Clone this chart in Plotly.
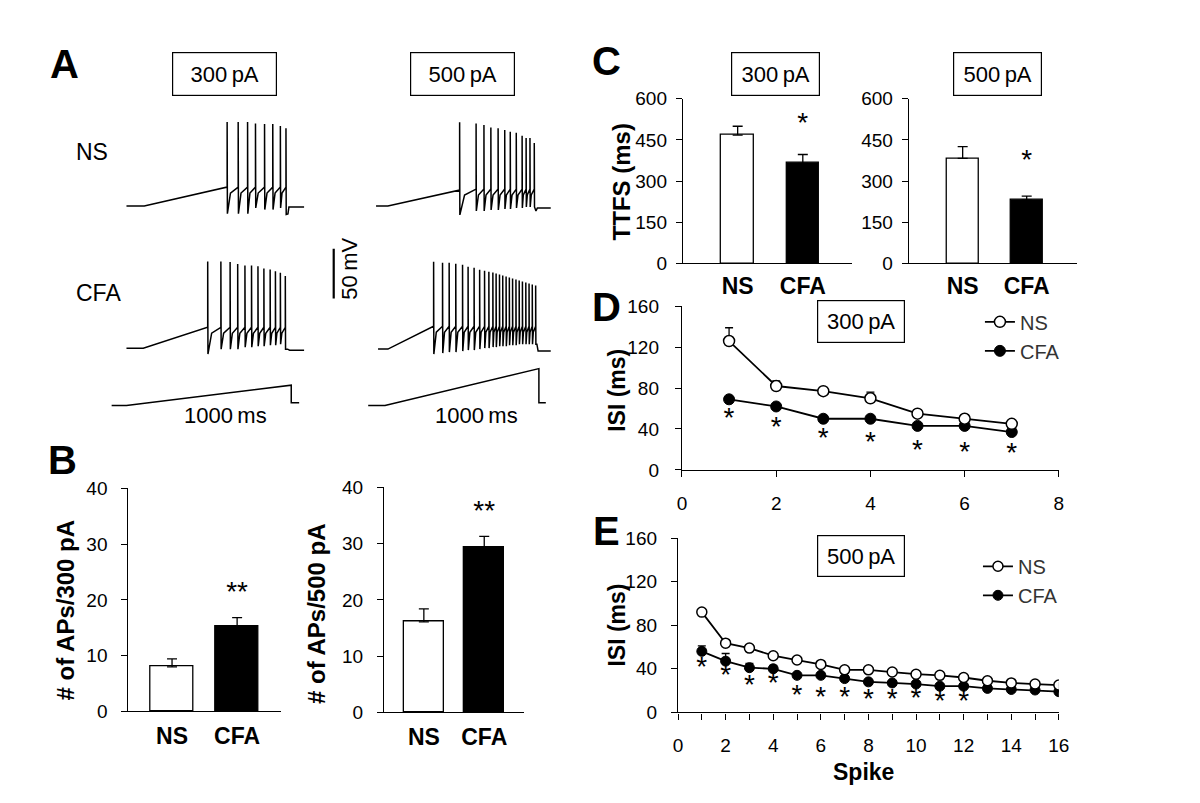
import plotly.graph_objects as go

W, H = 1200, 803
FONT = "Arial, Liberation Sans, sans-serif"

# ---------------- panel A : example traces (time in ms, voltage in mV) ----------------
ns300_pre_t = [0, 108, 611]
ns300_pre_v = [-65, -65, -46]
ns300_spk_t = [611, 678, 735, 783, 838, 888, 934, 968]
ns300_peak = [19.6, 19.6, 19.6, 18.1, 17.4, 17.4, 15.4, 13.1]
ns300_trough = [-72.8, -72.8, -72.8, -67, -68.6, -68.6, -67, -73.5]
ns300_thr = -46
ns300_post_t = [980, 986, 1078]
ns300_post_v = [-73, -66, -66]

cfa300_pre_t = [0, 102, 493]
cfa300_pre_v = [-65, -65, -44]
cfa300_spk_t = [493, 573, 629, 675, 719, 759, 798, 834, 872, 904, 934, 964]
cfa300_peak = [22.3, 22.3, 21.6, 19.6, 18.3, 18.3, 17.4, 15.1, 14.1, 12.5, 10.8, 7.5]
cfa300_trough = [-71, -66, -66, -66, -64, -64, -63, -63, -62, -62, -61, -66]
cfa300_thr = -44
cfa300_post_t = [978, 990, 1078]
cfa300_post_v = [-66, -67, -67]

ns500_pre_t = [-58, 19, 485]
ns500_pre_v = [-65, -65, -49]
ns500_spk_t = [485, 592, 643, 688, 735, 778, 814, 853, 891, 917, 942, 970]
ns500_peak = [19.3, 18.0, 16.4, 14.1, 13.1, 11.5, 9.8, 8.8, 5.6, 3.3, 3.3, -1.6]
ns500_trough = [-74, -70, -70, -69, -69, -68, -68, -67, -67, -66, -66, -66]
ns500_thr = -48
ns500_post_t = [981, 990, 1077]
ns500_post_v = [-70, -67, -67]

cfa500_pre_t = [-45, 19, 316]
cfa500_pre_v = [-65, -65, -42]
cfa500_spk_t = [316, 374, 417, 460, 504, 540, 579, 615, 647, 675, 701, 722,
                744, 765, 787, 808, 829, 851, 872, 893, 915, 936, 957, 979]
cfa500_peak = [23, 22, 22, 21, 20, 18, 17, 15, 14, 13, 12, 11,
               10, 9, 8, 7, 6, 5, 4, 3, 2, 1, 0, -1]
cfa500_trough = [-70, -69, -68, -68, -67, -66, -66, -65, -64, -64, -63, -63,
                 -62, -62, -62, -61, -61, -61, -60, -60, -60, -60, -60, -60]
cfa500_thr = -42
cfa500_post_t = [987, 995, 1077]
cfa500_post_v = [-60, -67, -67]

# current ramps (pA)
ramp300_t = [-90, 0, 1000, 1000, 1048]
ramp300_i = [0, 0, 300, 40, 40]
ramp500_t = [-109, 0, 1000, 1000, 1045]
ramp500_i = [0, 0, 500, 40, 40]

# 50 mV scale bar
scale_t = [-333, -333]
scale_v = [-14, 36]

# ---------------- panel B : number of APs ----------------
groups = ["NS", "CFA"]
aps300 = [8.0, 15.2]
aps300_err = [1.4, 1.6]
aps500 = [16.1, 29.4]
aps500_err = [2.3, 1.9]

# ---------------- panel C : TTFS ----------------
ttfs300 = [468, 365]
ttfs300_err = [32, 32]
ttfs500 = [383, 231]
ttfs500_err = [43, 14]

# ---------------- panel D : ISI at 300 pA ----------------
spike_d = [1, 2, 3, 4, 5, 6, 7]
isi300_ns = [126, 82, 77, 70, 55, 50, 45]
isi300_ns_err = [13, 5, 3, 6, 2, 2, 2]
isi300_cfa = [69, 62, 50, 50, 43, 43, 37]
isi300_cfa_err = [2, 2, 2, 2, 2, 2, 2]
star300_y = [48.6, 40, 29.5, 25.7, 17.1, 15.2, 14.3]

# ---------------- panel E : ISI at 500 pA ----------------
spike_e = list(range(1, 17))
isi500_ns = [92, 63.5, 59, 52, 48, 44, 39, 39, 37, 35, 34, 32, 29, 27, 26, 25]
isi500_ns_err = [2] * 16
isi500_cfa = [56, 47, 41, 40, 34, 34, 31, 28, 27, 26, 24, 24, 22, 21, 20.5, 19]
isi500_cfa_err = [5, 7, 4, 3, 2, 2, 2, 2, 2, 2, 2, 2, 2, 2, 2, 2]
star500_x = [1, 2, 3, 4, 5, 6, 7, 8, 9, 10, 11, 12]
star500_y = [40, 32, 23, 25, 14, 12, 12, 10, 10, 11, 9, 9]


def px(x):
    return x / W


def py(y):
    return 1 - y / H


def ap_trace(pre_t, pre_v, spk_t, peak, trough, thr, post_t, post_v):
    t, v = list(pre_t), list(pre_v)
    for i, s in enumerate(spk_t):
        t += [s, s + 1.5]
        v += [peak[i], trough[i]]
        if i + 1 < len(spk_t):
            nxt = spk_t[i + 1]
            t += [s + 0.3 * (nxt - s), nxt]
            v += [thr - 6, thr]
    t += post_t
    v += post_v
    return t, v


fig = go.Figure()
line_k = dict(color="black", width=1.5)

traces_a = [
    (ap_trace(ns300_pre_t, ns300_pre_v, ns300_spk_t, ns300_peak, ns300_trough, ns300_thr, ns300_post_t, ns300_post_v), "x", "y"),
    (ap_trace(cfa300_pre_t, cfa300_pre_v, cfa300_spk_t, cfa300_peak, cfa300_trough, cfa300_thr, cfa300_post_t, cfa300_post_v), "x2", "y2"),
    ((ramp300_t, ramp300_i), "x3", "y3"),
    (ap_trace(ns500_pre_t, ns500_pre_v, ns500_spk_t, ns500_peak, ns500_trough, ns500_thr, ns500_post_t, ns500_post_v), "x4", "y4"),
    (ap_trace(cfa500_pre_t, cfa500_pre_v, cfa500_spk_t, cfa500_peak, cfa500_trough, cfa500_thr, cfa500_post_t, cfa500_post_v), "x5", "y5"),
    ((ramp500_t, ramp500_i), "x6", "y6"),
]
for (tt, vv), xa, ya in traces_a:
    fig.add_trace(go.Scatter(x=tt, y=vv, mode="lines", line=line_k, xaxis=xa, yaxis=ya,
                             showlegend=False, hoverinfo="skip"))
fig.add_trace(go.Scatter(x=scale_t, y=scale_v, mode="lines", line=dict(color="black", width=2.2),
                         xaxis="x5", yaxis="y5", showlegend=False, hoverinfo="skip"))

# bars
def bar_pair(vals, err, xa, ya, width):
    fig.add_trace(go.Bar(x=[0, 1], y=vals, width=width, xaxis=xa, yaxis=ya, showlegend=False,
                         marker=dict(color=["white", "black"], line=dict(color="black", width=1.3)),
                         error_y=dict(type="data", array=err, arrayminus=[0, 0], symmetric=False,
                                      color="black", thickness=1.3, width=5)))

bar_pair(aps300, aps300_err, "x7", "y7", 0.667)
bar_pair(aps500, aps500_err, "x8", "y8", 0.67)
bar_pair(ttfs300, ttfs300_err, "x9", "y9", 0.5)
bar_pair(ttfs500, ttfs500_err, "x10", "y10", 0.5)

# ISI lines
def isi_pair(xs, ns, ns_err, cfa, cfa_err, xa, ya, leg, msize):
    fig.add_trace(go.Scatter(x=xs, y=cfa, name="CFA", mode="lines+markers", xaxis=xa, yaxis=ya, legend=leg,
                             legendrank=2,
                             line=dict(color="black", width=1.8),
                             marker=dict(symbol="circle", size=msize, color="black", line=dict(color="black", width=1)),
                             error_y=dict(type="data", array=cfa_err, arrayminus=[0] * len(xs), symmetric=False,
                                          color="black", thickness=1.3, width=4)))
    fig.add_trace(go.Scatter(x=xs, y=ns, name="NS", mode="lines+markers", xaxis=xa, yaxis=ya, legend=leg,
                             legendrank=1,
                             line=dict(color="black", width=1.8),
                             marker=dict(symbol="circle", size=msize, color="white", line=dict(color="black", width=1.5)),
                             error_y=dict(type="data", array=ns_err, arrayminus=[0] * len(xs), symmetric=False,
                                          color="black", thickness=1.3, width=4)))

isi_pair(spike_d, isi300_ns, isi300_ns_err, isi300_cfa, isi300_cfa_err, "x11", "y11", "legend", 11)
isi_pair(spike_e, isi500_ns, isi500_ns_err, isi500_cfa, isi500_cfa_err, "x12", "y12", "legend2", 10)

# stars as text marks
star_font = dict(size=28, color="black", family=FONT)
fig.add_trace(go.Scatter(x=spike_d, y=star300_y, mode="text", text=["*"] * len(spike_d), textposition="middle center",
                         textfont=star_font, xaxis="x11", yaxis="y11", showlegend=False, hoverinfo="skip"))
fig.add_trace(go.Scatter(x=star500_x, y=star500_y, mode="text", text=["*"] * len(star500_x), textposition="middle center",
                         textfont=star_font, xaxis="x12", yaxis="y12", showlegend=False, hoverinfo="skip"))
fig.add_trace(go.Scatter(x=[1], y=[21], mode="text", text=["**"], textfont=star_font, xaxis="x7", yaxis="y7",
                         showlegend=False, hoverinfo="skip"))
fig.add_trace(go.Scatter(x=[1], y=[35.5], mode="text", text=["**"], textfont=star_font, xaxis="x8", yaxis="y8",
                         showlegend=False, hoverinfo="skip"))
fig.add_trace(go.Scatter(x=[1], y=[505], mode="text", text=["*"], textfont=star_font, xaxis="x9", yaxis="y9",
                         showlegend=False, hoverinfo="skip"))
fig.add_trace(go.Scatter(x=[1], y=[370], mode="text", text=["*"], textfont=star_font, xaxis="x10", yaxis="y10",
                         showlegend=False, hoverinfo="skip"))


def hidden_x(x0, x1, rng, anchor):
    return dict(domain=[px(x0), px(x1)], range=rng, visible=False, anchor=anchor, fixedrange=True)


def hidden_y(y_bottom, y_top, rng, anchor):
    return dict(domain=[py(y_bottom), py(y_top)], range=rng, visible=False, anchor=anchor, fixedrange=True)


tick_font = dict(size=19, color="black", family=FONT)
cat_font = dict(size=23, color="black", family=FONT, weight="bold")


def shown_x(x0, x1, rng, anchor, cats=False, dtick=None, minor=None, standoff=6):
    d = dict(domain=[px(x0), px(x1)], range=rng, anchor=anchor, showline=True, linecolor="black", linewidth=1.3,
             showgrid=False, zeroline=False, fixedrange=True, ticklabelstandoff=standoff)
    if cats:
        d.update(tickvals=[0, 1], ticktext=groups, ticks="", tickfont=cat_font)
    else:
        d.update(dtick=dtick, tick0=0, ticks="outside", ticklen=6, tickcolor="black", tickwidth=1.3,
                 tickfont=tick_font)
        if minor:
            d["minor"] = dict(dtick=minor, ticks="outside", ticklen=6, tickcolor="black", tickwidth=1.3)
    return d


def shown_y(y_bottom, y_top, rng, dtick, anchor, standoff=8):
    return dict(domain=[py(y_bottom), py(y_top)], range=rng, dtick=dtick, tick0=0, anchor=anchor, showline=True,
                linecolor="black", linewidth=1.3, ticks="outside", ticklen=6, tickcolor="black", tickwidth=1.3,
                showgrid=False, zeroline=False, tickfont=tick_font, fixedrange=True, ticklabelstandoff=standoff)


layout_axes = dict(
    xaxis=hidden_x(89.95, 307.05, [-150, 1150], "y"),
    yaxis=hidden_y(218.5, 85.9, [-90, 40], "x"),
    xaxis2=hidden_x(89.95, 307.05, [-150, 1150], "y2"),
    yaxis2=hidden_y(364.5, 231.9, [-90, 40], "x2"),
    xaxis3=hidden_x(89.95, 307.05, [-150, 1150], "y3"),
    yaxis3=hidden_y(405, 370, [-100, 400], "x3"),
    xaxis4=hidden_x(311.48, 556.4, [-420, 1150], "y4"),
    yaxis4=hidden_y(218.5, 85.9, [-90, 40], "x4"),
    xaxis5=hidden_x(311.48, 556.4, [-420, 1150], "y5"),
    yaxis5=hidden_y(365.5, 232.9, [-90, 40], "x5"),
    xaxis6=hidden_x(311.48, 556.4, [-420, 1150], "y6"),
    yaxis6=hidden_y(405.6, 352.4, [-100, 600], "x6"),
    xaxis7=shown_x(117, 272, [-0.67, 1.68], "y7", cats=True, standoff=4),
    yaxis7=shown_y(712, 483, [0, 40], 10, "x7", standoff=10),
    xaxis8=shown_x(376, 518, [-0.66, 1.66], "y8", cats=True, standoff=4),
    yaxis8=shown_y(713, 482, [0, 40], 10, "x8", standoff=10),
    xaxis9=shown_x(679, 850, [-0.84, 1.75], "y9", cats=True, standoff=2),
    yaxis9=shown_y(252, 83, [0, 600], 150, "x9", standoff=5),
    xaxis10=shown_x(908, 1078, [-0.84, 1.78], "y10", cats=True, standoff=2),
    yaxis10=shown_y(252, 83, [0, 600], 150, "x10", standoff=5),
    xaxis11=shown_x(678, 1060, [0, 8], "y11", dtick=2, standoff=10),
    yaxis11=shown_y(464, 296, [0, 160], 40, "x11", standoff=12),
    xaxis12=shown_x(674, 1060, [0, 16], "y12", dtick=2, minor=1, standoff=10),
    yaxis12=shown_y(713, 534, [0, 160], 40, "x12", standoff=10),
)

annotations = []


def note(x, y, text, size, bold=False, angle=0, **kw):
    f = dict(size=size, color="black", family=FONT)
    if bold:
        f["weight"] = "bold"
    a = dict(x=px(x), y=py(y), xref="paper", yref="paper", text=text, showarrow=False, font=f,
             textangle=angle, xanchor="center", yanchor="middle")
    a.update(kw)
    annotations.append(a)


def boxed(x, y, text, w, h):
    note(x, y, text, 22, bordercolor="black", borderwidth=1.2, borderpad=0, width=w, height=h)


# panel letters
note(52, 47, "A", 40, bold=True)
note(50, 454, "B", 40, bold=True)
note(602, 44, "C", 40, bold=True)
note(602, 297, "D", 40, bold=True)
note(602, 527, "E", 40, bold=True)

# boxed labels
boxed(214.5, 57, "300\u2009pA", 103, 42)
boxed(456, 57, "500\u2009pA", 103, 42)
boxed(772.5, 57, "300\u2009pA", 87, 42)
boxed(997.5, 57, "500\u2009pA", 87, 42)
boxed(859, 311.5, "300\u2009pA", 86, 41)
boxed(859, 552.5, "500\u2009pA", 86, 40)

# panel A text
note(80, 138, "NS", 23)
note(87, 282, "CFA", 23)
note(215, 408, "1000\u2009ms", 22)
note(470, 408, "1000\u2009ms", 22)
note(341, 257, "50\u2009mV", 22, angle=-90)

# axis titles
note(53, 608, "# of APs/300 pA", 24, bold=True, angle=-90)
note(307, 611, "# of APs/500 pA", 24, bold=True, angle=-90)
note(617, 168, "TTFS (ms)", 24, bold=True, angle=-90)
note(612, 382, "ISI (ms)", 23, bold=True, angle=-90)
note(612, 623, "ISI (ms)", 23, bold=True, angle=-90)
note(862, 774, "Spike", 23, bold=True)

legend_style = dict(xanchor="left", yanchor="top", bgcolor="rgba(0,0,0,0)", borderwidth=0,
                    font=dict(size=20, color="#333333", family=FONT), itemwidth=30, tracegroupgap=0,
                    traceorder="normal")

fig.update_layout(
    width=W, height=H, margin=dict(l=0, r=0, t=0, b=0),
    paper_bgcolor="white", plot_bgcolor="rgba(0,0,0,0)",
    font=dict(family=FONT, color="black"),
    showlegend=True,
    legend=dict(x=px(980), y=py(292), **legend_style),
    legend2=dict(x=px(978), y=py(543), **legend_style),
    annotations=annotations,
    bargap=0,
    **layout_axes,
)

fig.write_html("out.html")
